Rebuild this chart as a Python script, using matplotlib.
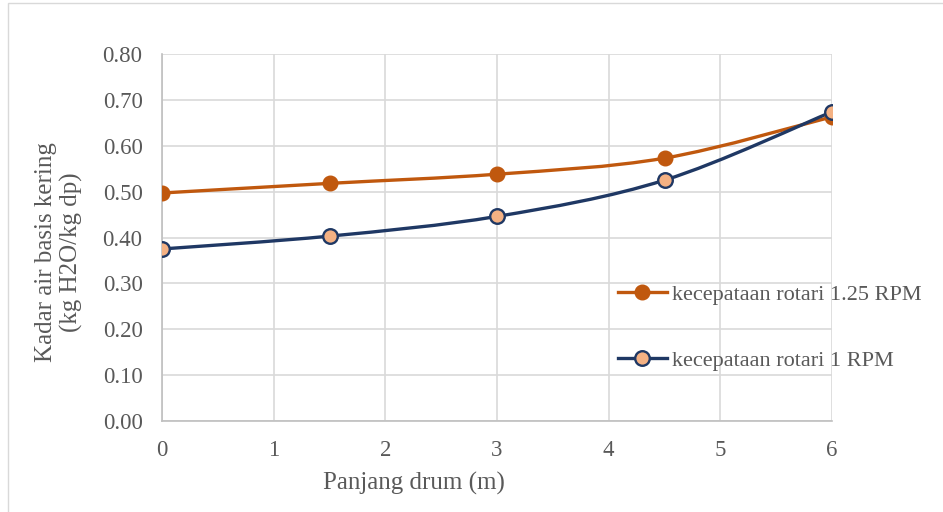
import numpy as np
import matplotlib.pyplot as plt
from matplotlib.path import Path
from matplotlib.patches import PathPatch, Rectangle

plt.rcParams['font.family'] = ['Liberation Serif', 'DejaVu Serif']

# Data: panjang drum (m) vs kadar air basis kering
panjang = [0, 1.5, 3, 4.5, 6]
rpm_125 = [0.497, 0.518, 0.538, 0.573, 0.663]
rpm_1 = [0.375, 0.403, 0.446, 0.525, 0.674]
labels = ['kecepataan rotari 1.25 RPM', 'kecepataan rotari 1 RPM']

c_orange = '#C0580E'
c_navy = '#1F3864'
c_fill = '#F4B183'
c_text = '#595959'
W, H = 943, 512


def smooth_path(x, y):
    # Bezier curve through the points (Excel-style smoothed line)
    p = np.column_stack([x, y]).astype(float)
    n = len(p)
    verts = [p[0]]
    codes = [Path.MOVETO]
    for i in range(n - 1):
        p0 = p[i - 1] if i > 0 else p[i]
        p3 = p[i + 2] if i + 2 < n else p[i + 1]
        c1 = p[i] + (p[i + 1] - p0) / 6
        c2 = p[i + 1] - (p3 - p[i]) / 6
        verts += [c1, c2, p[i + 1]]
        codes += [Path.CURVE4] * 3
    return Path(verts, codes)


fig = plt.figure(figsize=(W / 100, H / 100), dpi=100)
fig.patches.append(Rectangle((8 / W, -0.1), 1.2, 1.1 - 2.5 / H,
                             transform=fig.transFigure, fill=False,
                             edgecolor='#D9D9D9', linewidth=1))
ax = fig.add_axes([162 / W, 1 - 421 / H, (832 - 162) / W, (421 - 54) / H])

lw, ms = 2.4, 10.5
ax.add_patch(PathPatch(smooth_path(panjang, rpm_125), fill=False,
                       edgecolor=c_orange, linewidth=lw, zorder=3))
ax.add_patch(PathPatch(smooth_path(panjang, rpm_1), fill=False,
                       edgecolor=c_navy, linewidth=lw, zorder=3))
ax.plot(panjang, rpm_125, linestyle='none', marker='o', markersize=ms,
        color=c_orange, zorder=4)
ax.plot(panjang, rpm_1, linestyle='none', marker='o', markersize=ms,
        markerfacecolor=c_fill, markeredgecolor=c_navy, markeredgewidth=1.7, zorder=5)

# legend handles
h1, = ax.plot([], [], color=c_orange, linewidth=lw, marker='o', markersize=ms)
h2, = ax.plot([], [], color=c_navy, linewidth=lw, marker='o', markersize=ms,
              markerfacecolor=c_fill, markeredgecolor=c_navy, markeredgewidth=1.7)
leg = ax.legend([h1, h2], labels, loc='upper left',
                bbox_to_anchor=(618 / W, 1 - 284 / H), bbox_transform=fig.transFigure,
                frameon=False, fontsize=16, labelspacing=2.05, handlelength=2.2,
                handletextpad=0.22, borderaxespad=0, borderpad=0)
for t in leg.get_texts():
    t.set_color(c_text)

ax.set_xlim(0, 6)
ax.set_ylim(0, 0.8)
ax.set_xticks(range(7))
yt = np.arange(0, 0.81, 0.1)
ax.set_yticks(yt)
ax.set_yticklabels([f'{v:.2f}' for v in yt])
ax.grid(True, color='#D9D9D9', linewidth=1.2)
ax.set_axisbelow(True)
for s in ['top', 'right']:
    ax.spines[s].set_visible(False)
for s in ['left', 'bottom']:
    ax.spines[s].set_color('#BFBFBF')
    ax.spines[s].set_linewidth(1.2)
ax.tick_params(length=0, labelsize=16.5, labelcolor=c_text, pad=14)

fig.text(414 / W, 1 - 483 / H, 'Panjang drum (m)', fontsize=18, color=c_text,
         ha='center', va='center')
fig.text(59 / W, 1 - 252 / H, 'Kadar air basis kering\n(kg H2O/kg dp)', fontsize=18,
         color=c_text, rotation=90, ha='center', va='center',
         multialignment='center', linespacing=1.2)

fig.savefig('out.png', dpi=100)
